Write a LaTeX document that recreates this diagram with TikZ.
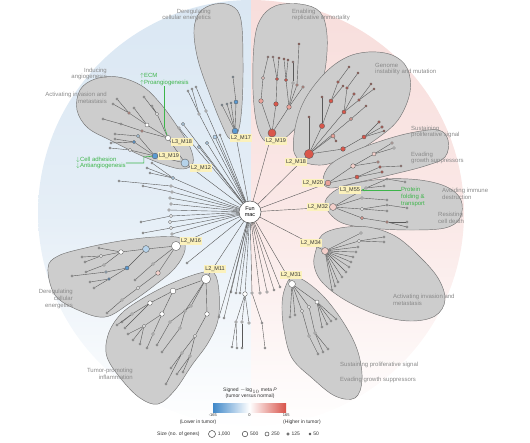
\documentclass[tikz,border=0pt]{standalone}
\usepackage{fontspec}
\setmainfont{Liberation Sans}
\usetikzlibrary{arrows.meta}

\definecolor{bgblue}{HTML}{DAE7F3}
\definecolor{bgpink}{HTML}{F8DEDC}
\definecolor{blobgray}{HTML}{CDCDCD}
\definecolor{hallgray}{HTML}{8A8A8A}
\definecolor{labelyellow}{HTML}{FBF1BC}
\definecolor{notegreen}{HTML}{3DB54A}
\definecolor{wt}{HTML}{FFFFFF}
\definecolor{lp}{HTML}{F3CFCA}
\definecolor{pk}{HTML}{E9A198}
\definecolor{rd}{HTML}{D9574B}
\definecolor{lb}{HTML}{B5D2EA}
\definecolor{bl}{HTML}{5B9AD2}
\definecolor{barblue}{HTML}{3F88C9}
\definecolor{barred}{HTML}{D8534A}

\tikzset{
  blob/.style={fill=blobgray, draw=black!55, line width=0.45pt},
  hall/.style={font=\fontsize{6}{6.6}\selectfont, text=hallgray, inner sep=0pt},
  gene/.style={circle, draw=black!65, line width=0.35pt, inner sep=0pt, minimum size=1.15*#1},
  sizedot/.style={circle, draw=black!75, fill=white, line width=0.5pt, inner sep=0pt, minimum size=#1},
  branch/.style={draw=black!65, line width=0.4pt},
  hub/.style={circle, draw=black!70, fill=white, line width=0.5pt, minimum size=22pt,
    inner sep=0pt, align=center, font=\fontsize{5.5}{5.8}\selectfont},
  modlabel/.style={fill=labelyellow, text=black!80, inner sep=1.3pt,
    font=\fontsize{5.5}{6}\selectfont},
  note/.style={text=notegreen, inner sep=0pt, align=left, font=\fontsize{6}{6.8}\selectfont},
  noteline/.style={draw=notegreen, line width=0.6pt},
  legtext/.style={text=black!80, inner sep=0pt, font=\fontsize{5}{5.6}\selectfont},
  colorbar/.style={minimum width=73pt, minimum height=9pt, inner sep=0pt,
    left color=barblue, right color=barred, middle color=white},
}

\begin{document}
\begin{tikzpicture}[x=1pt, y=-1pt]
  \useasboundingbox (0,0) rectangle (530,442);

  % background: lower in tumor / higher in tumor
  \begin{scope}
    \clip (251,213) circle[radius=213pt];
    \shade[top color=bgblue, bottom color=white, middle color=bgblue!70] (30,0) rectangle (251,430);
    \shade[top color=bgpink, bottom color=white, middle color=bgpink!70] (251,0) rectangle (470,430);
  \end{scope}

  % hallmark groups
  \draw[blob] plot[smooth cycle, tension=0.6] coordinates {(194,30) (200,12) (215,4) (232,6) (241,20) (243,60) (242,105) (238,132) (230,139) (222,125) (210,95) (198,60)};
  \draw[blob] plot[smooth cycle, tension=0.6] coordinates {(254,45) (260,20) (275,6) (300,4) (320,12) (327,35) (325,70) (316,100) (300,123) (282,140) (266,142) (257,125) (253,90)};
  \draw[blob] plot[smooth cycle, tension=0.6] coordinates {(297,158) (294,135) (303,103) (323,75) (345,58) (368,52) (392,55) (407,68) (410,92) (398,120) (375,140) (350,155) (322,165)};
  \draw[blob] plot[smooth cycle, tension=0.6] coordinates {(323,180) (330,165) (350,153) (378,142) (410,133) (438,130) (448,140) (445,157) (425,166) (390,175) (355,183) (330,188)};
  \draw[blob] plot[smooth cycle, tension=0.6] coordinates {(325,205) (333,192) (352,184) (385,179) (420,180) (447,187) (461,200) (460,218) (445,228) (410,230) (370,228) (340,222)};
  \draw[blob] plot[smooth cycle, tension=0.6] coordinates {(316,250) (322,235) (340,228) (368,227) (395,236) (418,255) (438,278) (445,300) (435,316) (410,321) (378,315) (345,300) (322,282) (314,265)};
  \draw[blob] plot[smooth cycle, tension=0.6] coordinates {(285,288) (292,277) (305,281) (325,298) (345,325) (358,352) (362,380) (355,398) (335,396) (312,378) (292,358) (284,330) (282,305)};
  \draw[blob] plot[smooth cycle, tension=0.6] coordinates {(200,273) (214,273) (219,292) (218,320) (208,343) (192,365) (175,390) (158,404) (140,398) (122,380) (107,357) (108,335) (120,315) (140,300) (170,284)};
  \draw[blob] plot[smooth cycle, tension=0.6] coordinates {(48,268) (58,256) (85,248) (120,241) (155,237) (180,238) (185,250) (175,268) (155,285) (130,303) (105,317) (78,310) (55,295)};
  \draw[blob] plot[smooth cycle, tension=0.6] coordinates {(80,90) (95,79) (118,77) (142,86) (160,103) (177,126) (190,147) (193,163) (183,169) (165,165) (140,155) (112,141) (88,128) (77,110)};

  % hallmark names
  \node[hall, align=right, anchor=east] (h1) at (211,15) {Deregulating\\cellular energetics};
  \node[hall, align=left, anchor=west] (h2) at (292,15) {Enabling\\replicative immortality};
  \node[hall, align=left, anchor=west] (h3) at (375,69) {Genome\\instability and mutation};
  \node[hall, align=left, anchor=west] (h4) at (411,132) {Sustaining\\proliferative signal};
  \node[hall, align=left, anchor=west] (h5) at (411,158) {Evading\\growth suppressors};
  \node[hall, align=left, anchor=west] (h6) at (442,194) {Avoiding immune\\destruction};
  \node[hall, align=left, anchor=west] (h7) at (438,218) {Resisting\\cell death};
  \node[hall, align=left, anchor=west] (h8) at (393,300) {Activating invasion and\\metastasis};
  \node[hall, anchor=west] (h9) at (340,365) {Sustaining proliferative signal};
  \node[hall, anchor=west] (h10) at (340,380) {Evading growth suppressors};
  \node[hall, align=right, anchor=east] (h11) at (133,374) {Tumor-promoting\\inflammation};
  \node[hall, align=right, anchor=east] (h12) at (73,299) {Deregulating\\cellular\\energetics};
  \node[hall, align=right, anchor=east] (h13) at (107,74) {Inducing\\angiogenesis};
  \node[hall, align=right, anchor=east] (h14) at (107,98) {Activating invasion and\\metastasis};

  \node[hub] (fun) at (250,212) {Fun\\mac};

  % L2_M17
  \foreach \n/\x/\y/\p/\s/\c in {m17/235/131/fun/5pt/bl, m17a/236/102/m17/3.5pt/bl,
      m17b/233/77/m17a/2pt/lb, m17c/222/105/m17/2pt/lb, m17d/227/104/m17/2pt/lb,
      m17e/231/103/m17/2pt/lb}{
    \node[gene=\s, fill=\c] (\n) at (\x,\y) {};
    \draw[branch] (\p) -- (\n);
  }
  % L2_M19
  \foreach \n/\x/\y/\p/\s/\c in {m19/272/133/fun/7pt/rd, m19a/261/101/m19/4pt/pk,
      m19b/263/78/m19a/3pt/lp, m19c/268/57/m19b/2pt/pk, m19d/276/104/m19/4pt/rd,
      m19e/277/79/m19d/3pt/rd, m19f/273/57/m19e/2pt/pk, m19g/279/58/m19e/2pt/rd,
      m19h/289/107/m19/4pt/pk, m19i/286/80/m19h/3pt/rd, m19j/284/59/m19i/2pt/rd,
      m19k/288/60/m19i/2pt/rd, m19l/293/83/m19h/2.5pt/wt, m19m/293/62/m19l/2pt/pk,
      m19n/297/85/m19h/2.5pt/pk, m19o/303/87/m19h/2.5pt/pk, m19p/299/44/m19n/2pt/rd}{
    \node[gene=\s, fill=\c] (\n) at (\x,\y) {};
    \draw[branch] (\p) -- (\n);
  }
  % L2_M18
  \foreach \n/\x/\y/\p/\s/\c in {m18/309/154/fun/8pt/rd, m18a/322/126/m18/4.5pt/rd,
      m18b/331/101/m18a/3.5pt/rd, m18c/338/82/m18b/2.5pt/rd, m18d/349/67/m18c/2pt/rd,
      m18e/343/86/m18b/2pt/rd, m18f/322/97/m18a/2pt/rd, m18g/309/117/m18/2pt/rd,
      m18h/344/112/m18/3.5pt/rd, m18i/347/88/m18h/2.5pt/rd, m18j/358/73/m18i/2pt/rd,
      m18k/354/94/m18h/2.5pt/rd, m18l/359/100/m18h/2.5pt/rd, m18m/371/84/m18l/2pt/rd,
      m18n/374/89/m18l/2pt/rd, m18o/351/119/m18/3pt/pk, m18p/366/106/m18o/2pt/rd,
      m18q/333/136/m18/3.5pt/pk, m18r/343/149/m18/4pt/rd, m18s/364/137/m18r/3.5pt/rd,
      m18t/379/122/m18s/2.5pt/rd, m18u/382/127/m18s/2.5pt/rd, m18v/384/131/m18s/2pt/rd,
      m18w/336/141/m18q/2pt/rd}{
    \node[gene=\s, fill=\c] (\n) at (\x,\y) {};
    \draw[branch] (\p) -- (\n);
  }
  % L2_M20
  \foreach \n/\x/\y/\p/\s/\c in {m20/328/183/fun/5pt/pk, m20a/353/166/m20/4pt/lp,
      m20b/374/154/m20a/3.5pt/lp, m20c/392/143/m20b/2.5pt/lp, m20d/394/148/m20b/2.5pt/wt,
      m20e/378/162/m20a/2.5pt/pk, m20f/357/177/m20/3.5pt/rd, m20g/380/167/m20f/2.5pt/rd,
      m20h/401/166/m20g/2pt/pk, m20i/382/172/m20f/2.5pt/rd}{
    \node[gene=\s, fill=\c] (\n) at (\x,\y) {};
    \draw[branch] (\p) -- (\n);
  }
  % L2_M32, L3_M55
  \foreach \n/\x/\y/\p/\s/\c in {m32/333/207/fun/6pt/lp, m55/366/188/m32/2.5pt/wt,
      m55a/384/186/m55/2pt/wt, m55b/387/179/m55/2pt/wt, m55c/405/182/m55b/2pt/wt,
      m32a/362/198/m32/2.5pt/wt, m32b/387/200/m32a/2pt/wt, m32c/362/209/m32/3pt/wt,
      m32d/387/205/m32c/2pt/wt, m32e/407/208/m32d/2pt/wt, m32f/387/211/m32c/2pt/wt,
      m32g/362/218/m32/3pt/pk, m32h/387/222/m32g/2.5pt/pk, m32i/407/222/m32h/2pt/wt,
      m32j/407/227/m32h/2pt/wt}{
    \node[gene=\s, fill=\c] (\n) at (\x,\y) {};
    \draw[branch] (\p) -- (\n);
  }
  % L2_M34
  \foreach \n/\x/\y/\p/\s/\c in {m34/325/251/fun/6pt/lp, m34a/361/233/m34/2.5pt/wt,
      m34b/359/241/m34/3pt/wt, m34c/384/237/m34b/2pt/wt, m34d/384/242/m34b/2pt/wt,
      m34e/358/247/m34/2pt/wt, m34f/356/252/m34/2pt/wt, m34g/353/257/m34/2pt/wt,
      m34h/351/262/m34/2pt/wt, m34i/349/267/m34/2pt/wt, m34j/346/272/m34/2pt/wt,
      m34k/342/277/m34/2pt/wt, m34l/338/282/m34/2pt/wt, m34m/335/286/m34/2pt/wt,
      m34n/332/290/m34/2pt/wt}{
    \node[gene=\s, fill=\c] (\n) at (\x,\y) {};
    \draw[branch] (\p) -- (\n);
  }
  % L2_M31
  \foreach \n/\x/\y/\p/\s/\c in {m31/292/284/fun/6pt/wt, m31a/290/317/m31/2pt/wt,
      m31b/295/315/m31/2pt/wt, m31c/317/302/m31/3.5pt/wt, m31d/322/327/m31c/2pt/wt,
      m31e/327/324/m31c/2pt/wt, m31f/331/321/m31c/2pt/wt, m31g/336/319/m31c/2pt/wt,
      m31h/309/307/m31/3pt/wt, m31i/315/333/m31h/2.5pt/wt, m31j/328/349/m31i/2pt/wt,
      m31k/323/352/m31i/2pt/wt, m31l/302/311/m31/3pt/wt, m31m/309/336/m31l/2.5pt/wt,
      m31n/318/354/m31m/2pt/wt}{
    \node[gene=\s, fill=\c] (\n) at (\x,\y) {};
    \draw[branch] (\p) -- (\n);
  }
  % L2_M11
  \foreach \n/\x/\y/\p/\s/\c in {m11/206/279/fun/8pt/wt, m11a/173/291/m11/5pt/wt,
      m11b/150/303/m11a/4pt/wt, m11c/132/314/m11b/2.5pt/wt, m11d/122/322/m11c/2pt/wt,
      m11e/117/325/m11c/2pt/wt, m11f/125/328/m11b/2pt/wt, m11g/162/314/m11a/4pt/wt,
      m11h/144/326/m11g/3pt/wt, m11i/128/334/m11h/2pt/wt, m11j/133/340/m11h/2pt/wt,
      m11k/140/344/m11h/2pt/wt, m11l/153/334/m11g/2.5pt/wt, m11m/147/348/m11l/2pt/wt,
      m11n/191/306/m11/2.5pt/wt, m11o/170/322/m11n/2.5pt/wt, m11p/157/345/m11o/2pt/wt,
      m11q/185/311/m11/2.5pt/wt, m11r/180/328/m11q/2.5pt/wt, m11s/162/352/m11r/2pt/wt,
      m11t/207/314/m11/4pt/wt, m11u/195/336/m11t/3pt/wt, m11v/182/353/m11u/2.5pt/wt,
      m11w/171/368/m11v/2pt/wt, m11x/166/384/m11v/2pt/wt, m11y/190/356/m11u/2.5pt/wt,
      m11z/177/374/m11y/2pt/wt, m11za/183/372/m11y/2pt/wt}{
    \node[gene=\s, fill=\c] (\n) at (\x,\y) {};
    \draw[branch] (\p) -- (\n);
  }
  % L2_M16
  \foreach \n/\x/\y/\p/\s/\c in {m16/176/246/fun/8pt/wt, m16a/146/249/m16/6pt/lb,
      m16b/121/252/m16a/4pt/wt, m16c/101/256/m16b/3pt/wt, m16d/82/257/m16c/2pt/wt,
      m16e/85/262/m16c/2pt/wt, m16f/99/248/m16b/2pt/wt, m16g/104/265/m16b/2.5pt/wt,
      m16h/86/272/m16g/2pt/wt, m16i/127/268/m16a/3.5pt/bl, m16j/106/272/m16i/2.5pt/lb,
      m16k/72/276/m16j/2pt/wt, m16l/109/279/m16i/2.5pt/bl, m16m/90/282/m16l/2pt/wt,
      m16n/94/288/m16l/2pt/wt, m16o/158/273/m16/4pt/lp, m16p/138/288/m16o/3pt/wt,
      m16q/122/300/m16p/2.5pt/wt, m16r/107/313/m16q/2pt/wt, m16s/153/264/m16/2.5pt/wt,
      m16t/135/280/m16s/2pt/wt}{
    \node[gene=\s, fill=\c] (\n) at (\x,\y) {};
    \draw[branch] (\p) -- (\n);
  }
  % L2_M12, L3_M18, L3_M19
  \foreach \n/\x/\y/\p/\s/\c in {m12/185/163/fun/7pt/lb, m318/168/138/m12/4.5pt/wt,
      m318a/157/114/m318/3pt/wt, m318b/144/97/m318a/2pt/wt, m318c/152/106/m318a/2pt/wt,
      m318d/147/125/m318/3.5pt/wt, m318e/129/113/m318d/2.5pt/pk, m318f/134/108/m318d/2pt/wt,
      m318g/117/99/m318e/2pt/wt, m318h/113/104/m318e/2pt/wt, m318i/142/131/m318/2.5pt/pk,
      m318j/121/124/m318i/2pt/wt, m318k/103/119/m318j/2pt/wt, m319/155/156/m12/5pt/bl,
      m319a/138/136/m319/3pt/lb, m319b/115/134/m319a/2pt/wt, m319c/134/142/m319/3pt/bl,
      m319d/115/139/m319c/2pt/wt, m319e/111/143/m319c/2pt/wt, m319f/130/150/m319/3pt/wt,
      m319g/110/148/m319f/2pt/wt}{
    \node[gene=\s, fill=\c] (\n) at (\x,\y) {};
    \draw[branch] (\p) -- (\n);
  }
  % modules outside the groups
  \foreach \n/\x/\y/\p/\s/\c in {u1/199/147/fun/3pt/lb, u2/207/143/fun/3pt/lb,
      u3/215/137/fun/3.5pt/lb, u4/220/135/fun/2pt/wt, u5/183/124/fun/3pt/lb,
      u6/179/128/fun/2.5pt/wt, u7/199/114/fun/2.5pt/wt, u8/188/91/u7/2pt/wt,
      u9/192/89/u7/2pt/wt, u10/206/111/fun/2.5pt/wt, u11/196/87/u10/2pt/wt,
      l1/173/178/fun/3pt/lb, l2/152/163/l1/2pt/wt, l3/147/168/l1/2pt/wt,
      l4/150/173/l1/2pt/wt, l5/171/186/fun/2.5pt/wt, l6/119/181/l5/2pt/wt,
      l7/172/192/fun/2.5pt/wt, l8/143/186/l7/2pt/wt, l9/170/198/fun/2.5pt/wt,
      l10/171/204/fun/2.5pt/wt, l11/169/210/fun/2.5pt/wt, l12/171/216/fun/3pt/wt,
      l13/141/222/l12/2pt/wt, l14/170/222/fun/3pt/wt, l15/171/228/fun/3pt/wt,
      l16/143/233/l15/2pt/wt, l17/172/234/fun/2.5pt/wt, l18/187/263/fun/2pt/wt,
      b1/231/292/fun/2pt/wt, b2/245/294/fun/4pt/wt, b3/236/322/b2/2.5pt/wt,
      b4/232/347/b3/2pt/wt, b5/237/348/b3/2pt/wt, b6/242/322/b2/2.5pt/wt,
      b7/242/348/b6/2pt/wt, b8/249/323/b2/2.5pt/wt, b9/252/293/fun/2.5pt/wt,
      b10/262/323/b9/2pt/wt, b11/265/348/b10/2pt/wt, b12/260/293/fun/2.5pt/wt,
      b13/267/292/fun/2.5pt/wt, b14/274/290/fun/2pt/wt, b15/280/287/fun/2pt/wt,
      b16/224/318/fun/2pt/wt, b17/219/317/fun/2pt/wt, b18/236/293/fun/2pt/wt,
      b19/240/293/fun/2pt/wt}{
    \node[gene=\s, fill=\c] (\n) at (\x,\y) {};
    \draw[branch] (\p) -- (\n);
  }

  % module names
  \node[modlabel] (lab17) at (241,138) {L2\_M17};
  \node[modlabel] (lab19) at (276,141) {L2\_M19};
  \node[modlabel] (lab18) at (296,162) {L2\_M18};
  \node[modlabel] (lab20) at (313,183) {L2\_M20};
  \node[modlabel] (lab55) at (350,190) {L3\_M55};
  \node[modlabel] (lab32) at (318,207) {L2\_M32};
  \node[modlabel] (lab34) at (311,243) {L2\_M34};
  \node[modlabel] (lab31) at (291,275) {L2\_M31};
  \node[modlabel] (lab11) at (215,269) {L2\_M11};
  \node[modlabel] (lab16) at (191,241) {L2\_M16};
  \node[modlabel] (lab12) at (201,168) {L2\_M12};
  \node[modlabel] (lab319) at (169,156) {L3\_M19};
  \node[modlabel] (lab318) at (182,142) {L3\_M18};

  % notes
  \node[note, anchor=south west] (ecm) at (140,86) {$\uparrow$ECM\\$\uparrow$Proangiogenesis};
  \draw[noteline] (ecm.south) -- ++(0,41) -- (m318);
  \node[note, anchor=west] (adh) at (76,163) {$\downarrow$Cell adhesion\\$\downarrow$Antiangiogenesis};
  \draw[noteline] (adh.east) -- ++(18,0) -- ++(0,-6) -- (m319);
  \node[note, anchor=north west] (fold) at (401,187) {Protein\\folding \&\\transport};
  \draw[noteline, -{Stealth[length=3pt, width=2.5pt]}] (fold.west |- lab55.east) -- (lab55.east);

  % legend
  \node[legtext, align=center] (legtitle) at (250,393) {Signed $-$log$_{10}$ meta \textit{P}\\(tumor versus normal)};
  \node[colorbar] (bar) at (249.5,407.5) {};
  \node[legtext, anchor=north, font=\fontsize{4}{4.5}\selectfont] (tlow) at ([yshift=-1.5pt]bar.south west) {-165};
  \node[legtext, anchor=north, font=\fontsize{4}{4.5}\selectfont] (tmid) at ([yshift=-1.5pt]bar.south) {0};
  \node[legtext, anchor=north, font=\fontsize{4}{4.5}\selectfont] (thigh) at ([yshift=-1.5pt]bar.south east) {165};
  \node[legtext] (lower) at (198,422) {(Lower in tumor)};
  \node[legtext] (higher) at (302,422) {(Higher in tumor)};
  \node[legtext, anchor=west] (sizettl) at (157,434) {Size (no. of genes)};
  \foreach \n/\x/\s/\t in {s1/212/7pt/{1,000}, s2/245/5.5pt/500, s3/267/4pt/250, s4/288/2.5pt/125, s5/310/2pt/50}{
    \node[sizedot=\s] (\n) at (\x,434) {};
    \node[legtext, anchor=west] (\n t) at ([xshift=1.8pt]\n.east) {\t};
  }
\end{tikzpicture}
\end{document}
